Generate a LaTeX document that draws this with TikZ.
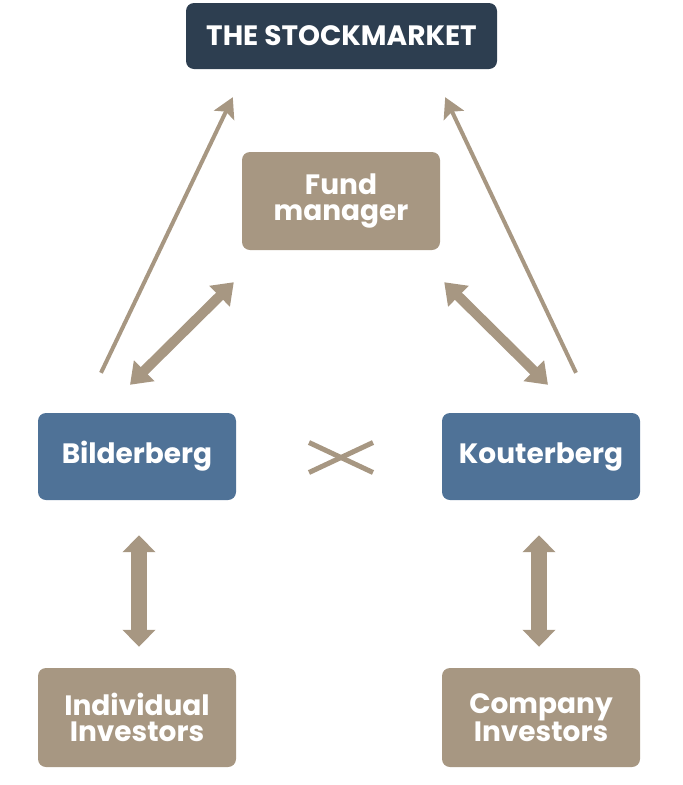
\documentclass[tikz,border=0pt]{standalone}
\usepackage{fontspec}
\setmainfont{Poppins}
\usetikzlibrary{calc,arrows.meta}
\definecolor{navy}{RGB}{45,62,80}
\definecolor{steelb}{RGB}{79,114,151}
\definecolor{tan}{RGB}{167,151,130}
\begin{document}
\begin{tikzpicture}[x=1pt,y=-1pt,
  box/.style={rounded corners=8pt,inner sep=0pt,text=white,font=\bfseries\fontsize{28}{25.5}\selectfont,align=center},
  tanbox/.style={box,fill=tan,minimum width=198pt,minimum height=98pt},
  bluebox/.style={box,fill=steelb,minimum width=198pt,minimum height=87pt},
  thin/.style={draw=tan,line width=4pt,-{Stealth[length=20pt,width=22pt,inset=4pt]}},
  thick/.style={draw=tan,line width=10pt,{Triangle[length=20pt,width=28pt]}-{Triangle[length=20pt,width=28pt]}},
  vert/.style={draw=tan,line width=16pt,{Triangle[length=17pt,width=32pt]}-{Triangle[length=17pt,width=32pt]}},
  cross/.style={draw=tan,line width=5pt}
]
\useasboundingbox (0,0) rectangle (683,785);
\node[box,fill=navy,minimum width=311pt,minimum height=66pt] (stock) at (341.5,36) {THE STOCKMARKET};
\node[tanbox] (fund) at (341,201) {Fund\\manager};
\node[bluebox] (bil) at (137,456.5) {Bilderberg};
\node[bluebox] (kou) at (541,456.5) {Kouterberg};
\node[tanbox,minimum height=99pt] (ind) at (137,717.5) {Individual\\Investors};
\node[tanbox,minimum height=99pt] (com) at (541,717.5) {Company\\Investors};
\draw[thin] ($(bil.north)+(-36,-40)$) -- ($(stock.south west)+(47,28)$);
\draw[thin] ($(kou.north)+(35,-40)$) -- ($(stock.south east)+(-52,28)$);
\draw[thick] ($(bil.north)+(-7,-28)$) -- ($(fund.south west)+(-8,32)$);
\draw[thick] ($(kou.north)+(7,-28)$) -- ($(fund.south east)+(4,32)$);
\draw[vert] ($(bil.south)+(2,35)$) -- ($(ind.north)+(2,-21)$);
\draw[vert] ($(kou.south)+(-2,35)$) -- ($(com.north)+(-2,-21)$);
\coordinate (xc) at ($(bil.east)!0.5!(kou.west)+(2,1)$);
\draw[cross] ($(xc)+(-32,-15)$) -- ($(xc)+(32,15)$);
\draw[cross] ($(xc)+(-32,15)$) -- ($(xc)+(32,-15)$);
\end{tikzpicture}
\end{document}
